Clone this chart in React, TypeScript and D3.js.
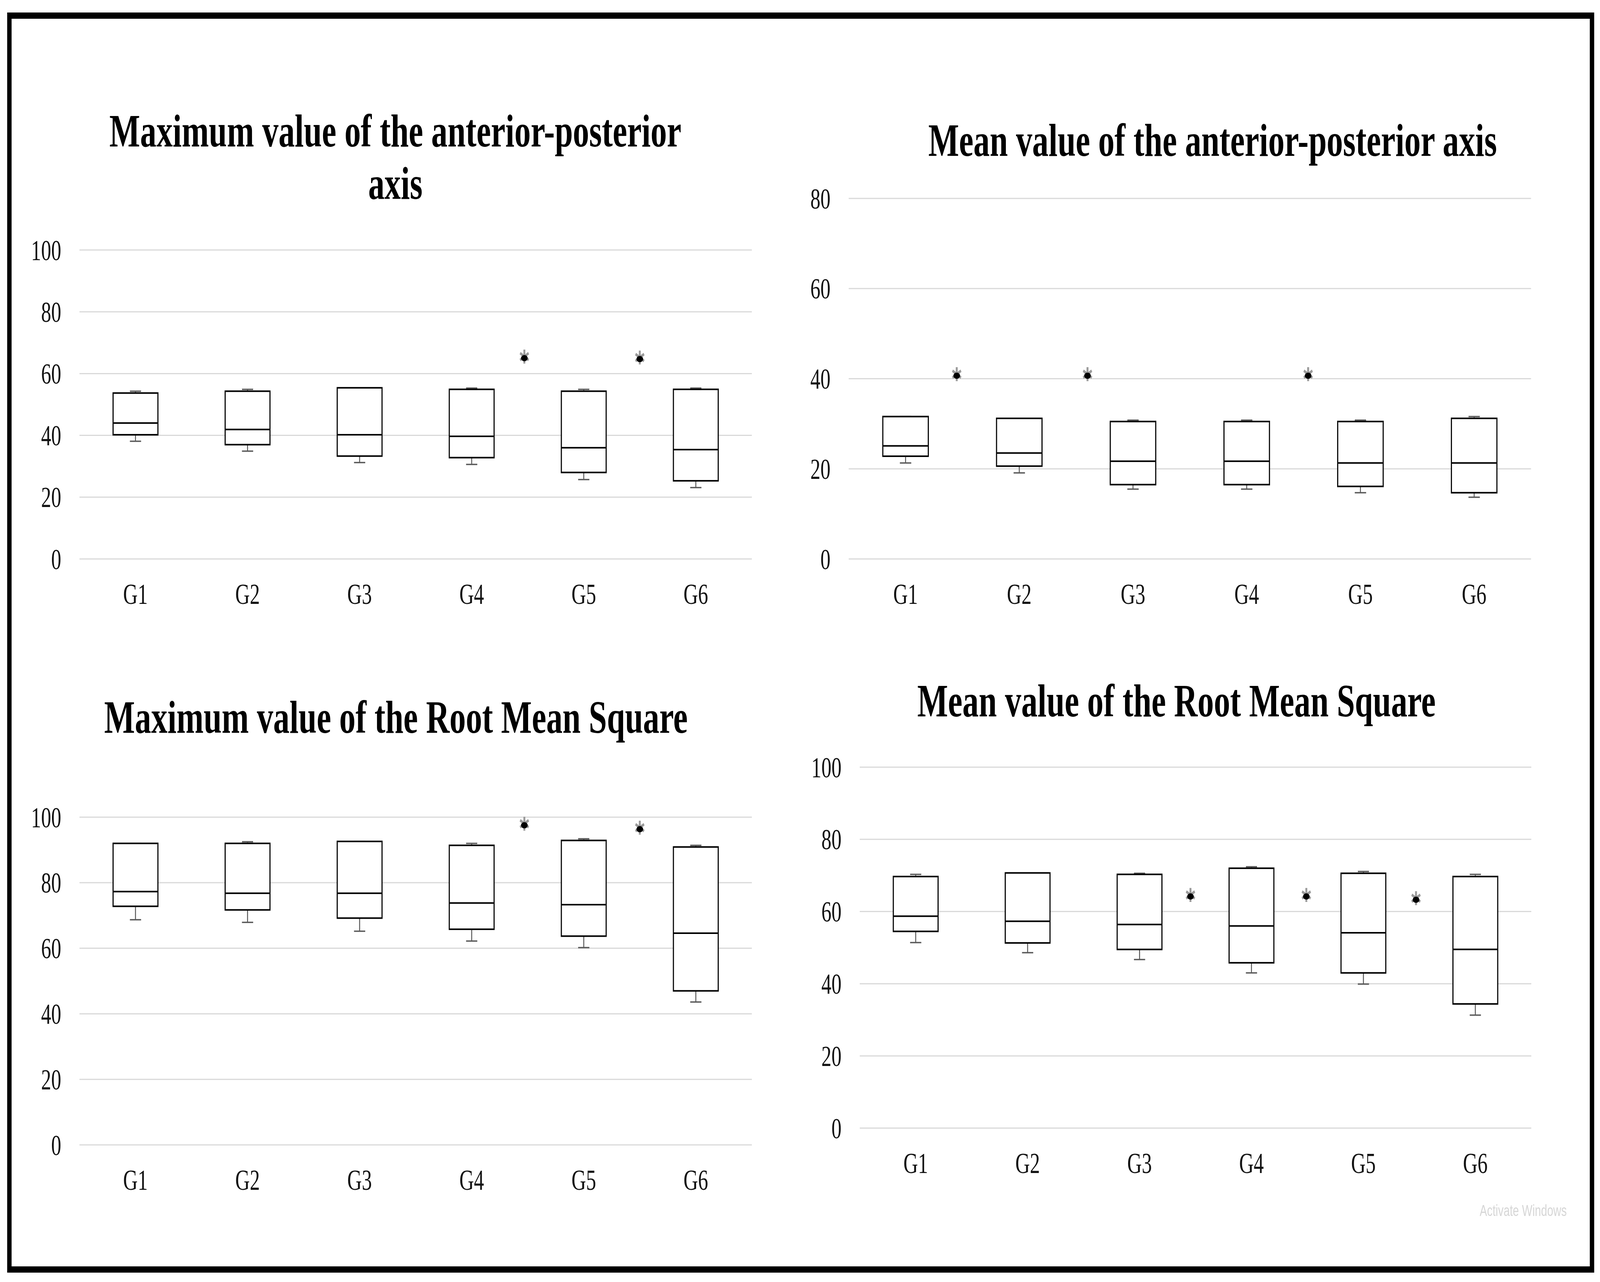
import * as d3 from 'd3';
import { useRef, useEffect } from 'react';

const groups = ['G1', 'G2', 'G3', 'G4', 'G5', 'G6'];

// cada fila: [bigote inferior, Q1, mediana, Q3, bigote superior]
const apMax = [
  [38.1, 40.2, 44.0, 53.7, 54.3],
  [34.9, 37.0, 41.9, 54.3, 54.9],
  [31.2, 33.3, 40.2, 55.4, 55.4],
  [30.6, 32.8, 39.7, 54.9, 55.3],
  [25.7, 28.0, 36.0, 54.3, 54.9],
  [23.1, 25.3, 35.4, 54.9, 55.3],
];
const apMean = [
  [21.3, 22.8, 25.1, 31.6, 31.6],
  [19.1, 20.6, 23.5, 31.2, 31.2],
  [15.5, 16.5, 21.7, 30.5, 30.8],
  [15.5, 16.5, 21.7, 30.5, 30.8],
  [14.7, 16.1, 21.3, 30.5, 30.8],
  [13.7, 14.7, 21.3, 31.2, 31.6],
];
const rmsMax = [
  [68.7, 72.8, 77.3, 92.0, 92.0],
  [67.9, 71.7, 76.8, 92.0, 92.5],
  [65.2, 69.2, 76.8, 92.6, 92.6],
  [62.2, 65.8, 73.8, 91.4, 92.0],
  [60.2, 63.7, 73.3, 92.9, 93.4],
  [43.6, 47.0, 64.6, 90.9, 91.4],
];
const rmsMean = [
  [51.4, 54.5, 58.7, 69.7, 70.3],
  [48.6, 51.3, 57.3, 70.7, 70.7],
  [46.7, 49.5, 56.4, 70.3, 70.6],
  [43.0, 45.8, 56.0, 72.0, 72.4],
  [39.9, 43.0, 54.1, 70.6, 71.1],
  [31.3, 34.4, 49.5, 69.7, 70.3],
];

// asteriscos: [posición en unidades de grupo (0 = centro de G1), valor]
const apMaxStars = [[3.47, 65.5], [4.5, 65.2]];
const apMeanStars = [[0.45, 41.0], [1.6, 41.0], [3.54, 41.0]];
const rmsMaxStars = [[3.47, 98.0], [4.5, 96.8]];
const rmsMeanStars = [[2.455, 64.6], [3.49, 64.6], [4.47, 63.7]];

const ticks100 = [0, 20, 40, 60, 80, 100];
const ticks80 = [0, 20, 40, 60, 80];

const titles = [
  ['Maximum value of the anterior-posterior', 'axis'],
  ['Mean value of the anterior-posterior axis'],
  ['Maximum value of the Root Mean Square'],
  ['Mean value of the Root Mean Square'],
];

const W = 5799;
const H = 3282;
const FONT = '"Liberation Serif", "Times New Roman", serif';

const panels = [
  { data: apMax, stars: apMaxStars, ticks: ticks100, title: titles[0], left: 288, right: 2725, top: 640, bottom: 1431, tx: 1433, ty: [375, 509] },
  { data: apMean, stars: apMeanStars, ticks: ticks80, title: titles[1], left: 3076, right: 5549, top: 508, bottom: 1431, tx: 4395, ty: [399] },
  { data: rmsMax, stars: rmsMaxStars, ticks: ticks100, title: titles[2], left: 288, right: 2725, top: 2092, bottom: 2931, tx: 1435, ty: [1876] },
  { data: rmsMean, stars: rmsMeanStars, ticks: ticks100, title: titles[3], left: 3116, right: 5550, top: 1964, bottom: 2888, tx: 4264, ty: [1834] },
];

export default function App() {
  const svgRef = useRef<SVGSVGElement | null>(null);

  useEffect(() => {
    const root = d3.select(svgRef.current);
    root.selectAll('*').remove();
    root.attr('viewBox', `0 0 ${W} ${H}`).attr('preserveAspectRatio', 'none');

    root.append('rect').attr('width', W).attr('height', H).attr('fill', '#fff');

    // Marco exterior
    root
      .append('rect')
      .attr('x', 34)
      .attr('y', 40)
      .attr('width', 5736)
      .attr('height', 3210)
      .attr('fill', 'none')
      .attr('stroke', '#000')
      .attr('stroke-width', 16);

    panels.forEach((p) => {
      const g = root.append('g');
      const x = d3.scaleBand<string>().domain(groups).range([p.left, p.right]);
      const xPos = d3.scaleLinear().domain([-0.5, groups.length - 0.5]).range([p.left, p.right]);
      const y = d3
        .scaleLinear()
        .domain([0, p.ticks[p.ticks.length - 1]])
        .range([p.bottom, p.top]);
      const bw = x.bandwidth() * 0.4;
      const cap = bw * 0.25;

      // Título
      p.title.forEach((line, i) => {
        g.append('text')
          .attr('x', p.tx)
          .attr('y', p.ty[i])
          .attr('text-anchor', 'middle')
          .attr('font-family', FONT)
          .attr('font-weight', 'bold')
          .attr('font-size', 118)
          .attr('fill', '#000')
          .text(line);
      });

      // Rejilla y etiquetas Y
      p.ticks.forEach((t) => {
        g.append('line')
          .attr('x1', p.left)
          .attr('x2', p.right)
          .attr('y1', y(t))
          .attr('y2', y(t))
          .attr('stroke', '#d9d9d9')
          .attr('stroke-width', 3);
        g.append('text')
          .attr('x', p.left - 66)
          .attr('y', y(t))
          .attr('dy', '0.35em')
          .attr('text-anchor', 'end')
          .attr('font-family', FONT)
          .attr('font-size', 73)
          .attr('fill', '#111')
          .text(t);
      });

      // Etiquetas X
      groups.forEach((name) => {
        g.append('text')
          .attr('x', (x(name) ?? 0) + x.bandwidth() / 2)
          .attr('y', p.bottom + 115)
          .attr('text-anchor', 'middle')
          .attr('font-family', FONT)
          .attr('font-size', 73)
          .attr('fill', '#111')
          .text(name);
      });

      // Cajas
      p.data.forEach((d, i) => {
        const [lo, q1, med, q3, hi] = d;
        const cx = (x(groups[i]) ?? 0) + x.bandwidth() / 2;
        const wh = g.append('g').attr('stroke', '#595959').attr('stroke-width', 3.5);
        wh.append('line').attr('x1', cx).attr('x2', cx).attr('y1', y(lo)).attr('y2', y(q1));
        wh.append('line').attr('x1', cx - cap / 2).attr('x2', cx + cap / 2).attr('y1', y(lo)).attr('y2', y(lo));
        wh.append('line').attr('x1', cx).attr('x2', cx).attr('y1', y(hi)).attr('y2', y(q3));
        wh.append('line').attr('x1', cx - cap / 2).attr('x2', cx + cap / 2).attr('y1', y(hi)).attr('y2', y(hi));

        g.append('rect')
          .attr('x', cx - bw / 2)
          .attr('y', y(q3))
          .attr('width', bw)
          .attr('height', y(q1) - y(q3))
          .attr('fill', '#fff')
          .attr('stroke', '#000')
          .attr('stroke-width', 4);
        g.append('line')
          .attr('x1', cx - bw / 2)
          .attr('x2', cx + bw / 2)
          .attr('y1', y(med))
          .attr('y2', y(med))
          .attr('stroke', '#000')
          .attr('stroke-width', 4);
      });

      // Asteriscos
      p.stars.forEach(([pos, v]) => {
        const s = g.append('g').attr('transform', `translate(${xPos(pos)},${y(v)})`);
        s.append('path')
          .attr('d', d3.symbol(d3.symbolAsterisk, 900)())
          .attr('stroke', '#9a9a9a')
          .attr('stroke-width', 7);
        s.append('ellipse').attr('rx', 12).attr('ry', 8).attr('cy', 4).attr('fill', '#000');
      });
    });

    // Marca de agua tenue
    root
      .append('text')
      .attr('x', 5363)
      .attr('y', 3113)
      .attr('font-family', '"Liberation Sans", sans-serif')
      .attr('font-size', 40)
      .attr('fill', '#d6d6d6')
      .text('Activate Windows');
  }, []);

  return (
    <svg
      ref={svgRef}
      style={{ position: 'fixed', left: 0, top: 0, width: '100vw', height: '100vh', display: 'block' }}
    />
  );
}
